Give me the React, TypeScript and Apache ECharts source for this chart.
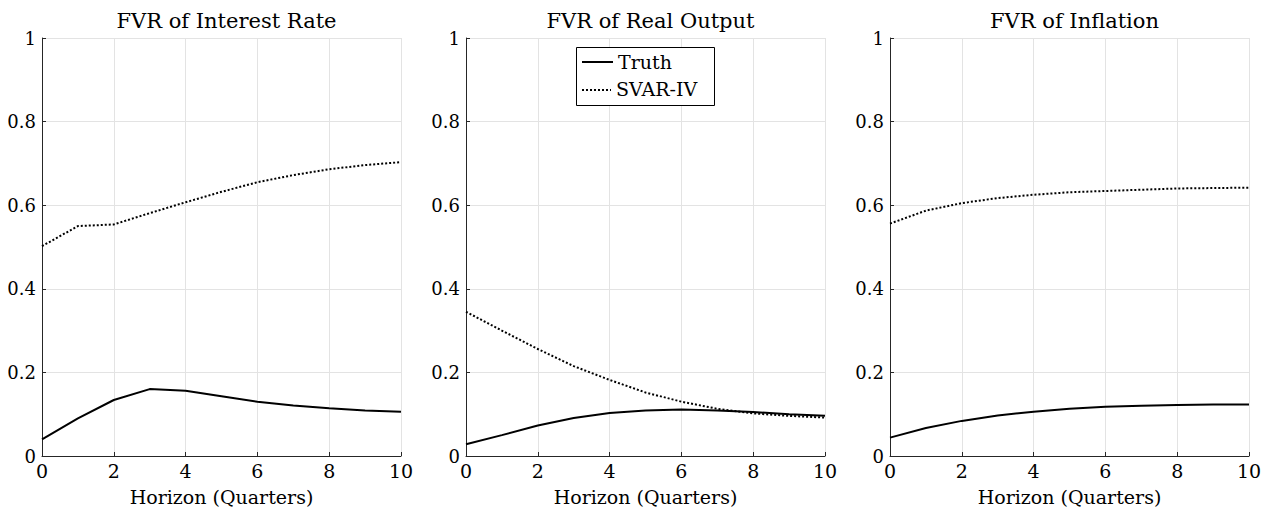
import React, { useEffect, useRef } from "react";
import * as echarts from "echarts";

const horizons = [0, 1, 2, 3, 4, 5, 6, 7, 8, 9, 10];
const panelTitles = ["FVR of Interest Rate", "FVR of Real Output", "FVR of Inflation"];
const seriesNames = ["Truth", "SVAR-IV"];
const xAxisLabel = "Horizon (Quarters)";

const truthInterest = [0.04, 0.09, 0.134, 0.16, 0.156, 0.143, 0.13, 0.121, 0.114, 0.109, 0.106];
const svarInterest = [0.502, 0.55, 0.554, 0.581, 0.607, 0.632, 0.655, 0.672, 0.686, 0.696, 0.703];
const truthOutput = [0.028, 0.05, 0.073, 0.091, 0.103, 0.109, 0.111, 0.109, 0.105, 0.1, 0.096];
const svarOutput = [0.345, 0.3, 0.256, 0.215, 0.182, 0.152, 0.13, 0.113, 0.102, 0.096, 0.092];
const truthInflation = [0.044, 0.067, 0.084, 0.097, 0.106, 0.113, 0.118, 0.12, 0.122, 0.123, 0.123];
const svarInflation = [0.556, 0.587, 0.605, 0.617, 0.625, 0.631, 0.634, 0.637, 0.64, 0.641, 0.642];

const truthSets = [truthInterest, truthOutput, truthInflation];
const svarSets = [svarInterest, svarOutput, svarInflation];

const FONT = "DejaVu Serif";
const gridLefts = [42, 466, 890];
const gridWidth = 359;

export default function App() {
  const ref = useRef<HTMLDivElement>(null);
  useEffect(() => {
    if (!ref.current) return;
    const chart = echarts.init(ref.current, undefined, { renderer: "svg" });
    const grids = gridLefts.map((l) => ({ left: l, width: gridWidth, top: 38, bottom: 61 }));
    const titles = panelTitles.map((t, i) => ({
      text: t,
      left: gridLefts[i] + gridWidth / 2,
      textAlign: "center",
      top: 5,
      textStyle: { fontFamily: FONT, fontSize: 21, fontWeight: "normal", color: "#000" },
    }));
    const xAxes = gridLefts.map((_, i) => ({
      type: "value",
      gridIndex: i,
      min: 0,
      max: 10,
      interval: 2,
      name: xAxisLabel,
      nameLocation: "middle",
      nameGap: 31,
      nameTextStyle: { fontFamily: FONT, fontSize: 19, color: "#000" },
      axisLine: { show: true, onZero: false, lineStyle: { color: "#262626", width: 1 } },
      axisTick: { show: true, inside: true, length: 4, lineStyle: { color: "#262626" } },
      axisLabel: { fontFamily: FONT, fontSize: 19, color: "#000", margin: 5 },
      splitLine: { show: true, lineStyle: { color: "#e3e3e3", width: 1 } },
    }));
    const yAxes = gridLefts.map((_, i) => ({
      type: "value",
      gridIndex: i,
      min: 0,
      max: 1,
      interval: 0.2,
      axisLine: { show: true, lineStyle: { color: "#262626", width: 1 } },
      axisTick: { show: true, inside: true, length: 4, lineStyle: { color: "#262626" } },
      axisLabel: { fontFamily: FONT, fontSize: 18, color: "#000", margin: 6 },
      splitLine: { show: true, lineStyle: { color: "#e3e3e3", width: 1 } },
    }));
    const series: any[] = [];
    gridLefts.forEach((_, i) => {
      series.push({
        name: seriesNames[0],
        type: "line",
        xAxisIndex: i,
        yAxisIndex: i,
        symbol: "none",
        data: horizons.map((h, k) => [h, truthSets[i][k]]),
        lineStyle: { color: "#000", width: 2, type: "solid" },
        itemStyle: { color: "#000" },
      });
      series.push({
        name: seriesNames[1],
        type: "line",
        xAxisIndex: i,
        yAxisIndex: i,
        symbol: "none",
        data: horizons.map((h, k) => [h, svarSets[i][k]]),
        lineStyle: { color: "#000", width: 2, type: [2, 2] },
        itemStyle: { color: "#000" },
      });
    });
    const legendGraphic = {
      type: "group",
      children: [
        {
          type: "rect",
          shape: { x: 576.5, y: 47.5, width: 138, height: 58 },
          style: { fill: "#fff", stroke: "#000", lineWidth: 1 },
          z: 100,
        },
        {
          type: "line",
          shape: { x1: 582, y1: 62, x2: 613, y2: 62 },
          style: { stroke: "#000", lineWidth: 2 },
          z: 101,
        },
        {
          type: "line",
          shape: { x1: 582, y1: 90, x2: 611, y2: 90 },
          style: { stroke: "#000", lineWidth: 2, lineDash: [2, 2] },
          z: 101,
        },
        {
          type: "text",
          x: 618,
          y: 62,
          style: { text: seriesNames[0], font: `19px ${FONT}`, fill: "#000", verticalAlign: "middle" },
          z: 101,
        },
        {
          type: "text",
          x: 616,
          y: 89,
          style: { text: seriesNames[1], font: `19px ${FONT}`, fill: "#000", verticalAlign: "middle" },
          z: 101,
        },
      ],
    };
    chart.setOption({
      animation: false,
      backgroundColor: "#fff",
      title: titles,
      grid: grids,
      xAxis: xAxes,
      yAxis: yAxes,
      graphic: [legendGraphic],
      series,
    });
    return () => chart.dispose();
  }, []);
  return <div ref={ref} style={{ width: 1270, height: 517, margin: -8 }} />;
}
